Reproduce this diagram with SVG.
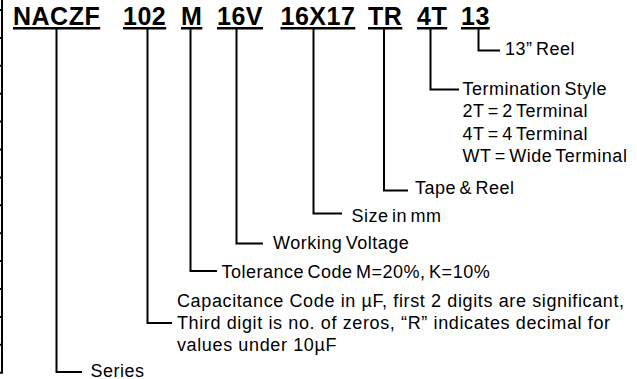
<svg xmlns="http://www.w3.org/2000/svg" width="637" height="379" viewBox="0 0 637 379">
<style>
.t{font-family:"Liberation Sans",Arial,Helvetica,sans-serif;font-size:25px;font-weight:bold;fill:#000;text-decoration:underline;letter-spacing:0.5px}
.l{font-family:"Liberation Sans",Arial,Helvetica,sans-serif;font-size:18px;fill:#000;letter-spacing:0.5px}
.w{letter-spacing:0.62px}
.s{word-spacing:-2px}
.c{fill:none;stroke:#000;stroke-width:2}
.b{fill:none;stroke:#000;stroke-width:2}
</style>
<rect width="637" height="379" fill="#fff"/>
<g id="border">
<path class="b" d="M2,0V373.5 M0,10H3 M0,37.9H3 M0,65.8H3 M0,93.7H3 M0,121.6H3 M0,149.5H3 M0,177.4H3 M0,205.3H3 M0,233.2H3 M0,261.1H3 M0,289H3 M0,316.9H3 M0,344.8H3 M0,372.7H3"/>
</g>
<g id="code">
<text class="t" x="13" y="25">NACZF</text>
<text class="t" x="123" y="25">102</text>
<text class="t" x="181" y="25">M</text>
<text class="t" x="217" y="25">16V</text>
<text class="t" x="280.5" y="25">16X17</text>
<text class="t" x="368" y="25">TR</text>
<text class="t" x="417" y="25">4T</text>
<text class="t" x="461" y="25">13</text>
</g>
<g id="connectors">
<path class="c" d="M56.5,29V372H82"/>
<path class="c" d="M147.5,29V323H172"/>
<path class="c" d="M190.5,29V271H217"/>
<path class="c" d="M236.5,29V243.5H263"/>
<path class="c" d="M313.5,29V213.5H342"/>
<path class="c" d="M384,29V190.5H408"/>
<path class="c" d="M430.5,29V89.5H459"/>
<path class="c" d="M478.5,29V50.5H500"/>
</g>
<g id="series"><text class="l" x="90.5" y="376.5">Series</text></g>
<g id="capacitance">
<text class="l w" x="177" y="307">Capacitance Code in µF, first 2 digits are significant,</text>
<text class="l w" x="177" y="329">Third digit is no. of zeros, “R” indicates decimal for</text>
<text class="l w" x="177" y="351">values under 10µF</text>
</g>
<g id="tolerance"><text class="l s" x="221.5" y="277.5">Tolerance Code M=20%, K=10%</text></g>
<g id="voltage"><text class="l s" x="273" y="248.5">Working Voltage</text></g>
<g id="size"><text class="l s" x="351.5" y="221.5">Size in mm</text></g>
<g id="tape"><text class="l s" x="415" y="193.5">Tape &amp; Reel</text></g>
<g id="termination">
<text class="l s" x="462.5" y="94.5">Termination Style</text>
<text class="l s" x="462.5" y="117">2T = 2 Terminal</text>
<text class="l s" x="462.5" y="139.5">4T = 4 Terminal</text>
<text class="l s" x="462.5" y="162">WT = Wide Terminal</text>
</g>
<g id="reel"><text class="l s" x="505" y="55">13” Reel</text></g>
</svg>
